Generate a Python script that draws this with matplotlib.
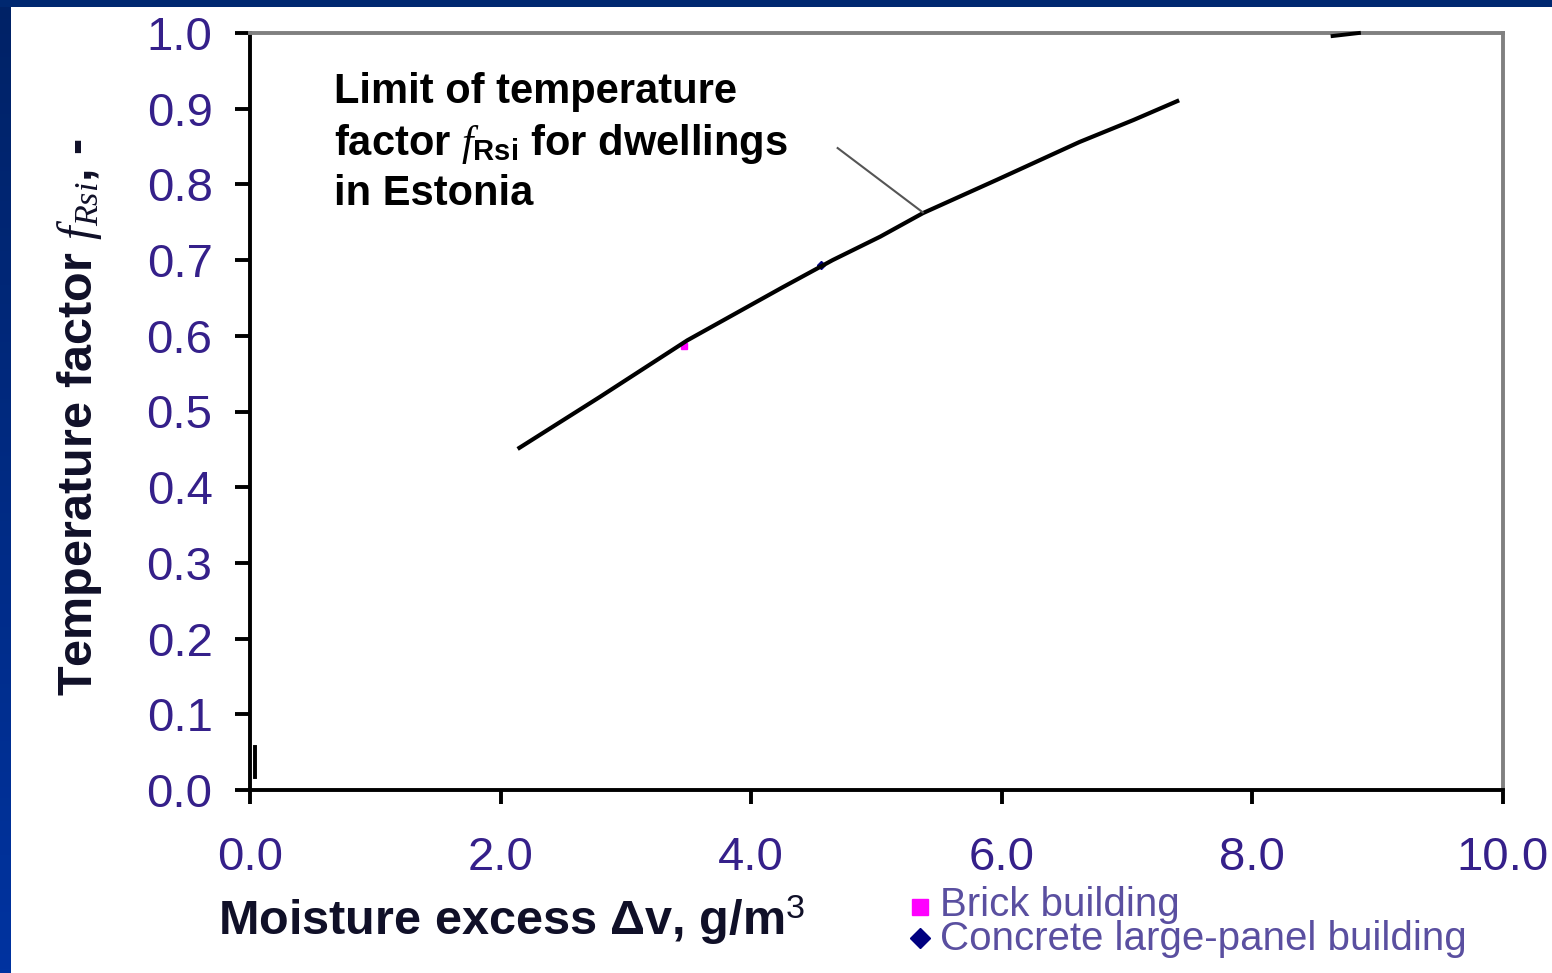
import numpy as np
import matplotlib
matplotlib.use('Agg')
import matplotlib.pyplot as plt
from matplotlib.lines import Line2D

plt.rcParams['font.family'] = ['Liberation Sans', 'DejaVu Sans']
plt.rcParams['mathtext.fontset'] = 'custom'
plt.rcParams['mathtext.rm'] = 'Liberation Sans'
plt.rcParams['mathtext.it'] = 'Liberation Serif:italic'
plt.rcParams['mathtext.bf'] = 'Liberation Sans:bold'

# limit curve of temperature factor
limit_x = [2.15, 2.79, 3.49, 4.25, 4.65, 5.03, 5.37, 5.96, 6.62, 7.05, 7.40]
limit_y = [0.452, 0.519, 0.594, 0.664, 0.700, 0.731, 0.762, 0.806, 0.856, 0.885, 0.910]

# measured buildings (mostly hidden behind the curve)
brick_x = [3.46]
brick_y = [0.586]
concrete_x = [4.56]
concrete_y = [0.693]

# small leftovers of other lines in the original
stub_left_x = [0.04, 0.04]
stub_left_y = [0.017, 0.057]
stub_top_x = [8.64, 8.85]
stub_top_y = [0.996, 1.0]

# leader line of the annotation
leader_x = [4.69, 5.37]
leader_y = [0.848, 0.763]

x_ticks = [0, 2, 4, 6, 8, 10]
x_labels = ['0.0', '2.0', '4.0', '6.0', '8.0', '10.0']
y_ticks = [0.0, 0.1, 0.2, 0.3, 0.4, 0.5, 0.6, 0.7, 0.8, 0.9, 1.0]
y_labels = ['%.1f' % v for v in y_ticks]

legend_labels = ['Brick building', 'Concrete large-panel building']
legend_colors = ['#ff00ff', '#000080']
legend_markers = ['s', 'D']

tick_color = '#35208a'

fig = plt.figure(figsize=(15.52, 9.73), dpi=100)
fig.patch.set_facecolor('white')

# blue frame on the left and top
band = fig.add_axes([0, 0, 11 / 1552, 1])
grad = np.linspace(0, 1, 256).reshape(-1, 1)
cmap = matplotlib.colors.LinearSegmentedColormap.from_list('band', ['#002266', '#0033a0'])
band.imshow(grad, aspect='auto', cmap=cmap, extent=[0, 1, 0, 1], origin='upper')
band.axis('off')
top = fig.add_axes([0, 1 - 7 / 973, 1, 7 / 973])
top.set_facecolor('#002870')
top.set_xticks([])
top.set_yticks([])
for s in top.spines.values():
    s.set_visible(False)

ax = fig.add_axes([250 / 1552, 183 / 973, 1253 / 1552, 757 / 973])
ax.set_xlim(0, 10)
ax.set_ylim(0, 1)

ax.plot(brick_x, brick_y, 's', color='#ff00ff', markersize=5, zorder=2)
ax.plot(concrete_x, concrete_y, 'D', color='#000080', markersize=4, zorder=2)
ax.plot(limit_x, limit_y, color='black', lw=3, zorder=3)
ax.plot(stub_left_x, stub_left_y, color='black', lw=2.8, zorder=3)
ax.plot(stub_top_x, stub_top_y, color='black', lw=2.8, zorder=4, clip_on=False)
ax.plot(leader_x, leader_y, color='#555555', lw=1.5, zorder=3)

ax.text(0.67, 0.949, 'Limit of temperature', fontsize=30, fontweight='bold',
        va='top', ha='left', color='black')
ax.text(0.67, 0.882, r'factor $\mathit{f}_{\mathbf{Rsi}}$ for dwellings', fontsize=30,
        fontweight='bold', va='top', ha='left', color='black')
ax.text(0.67, 0.814, 'in Estonia', fontsize=30, fontweight='bold',
        va='top', ha='left', color='black')

ax.set_xticks(x_ticks)
ax.set_xticklabels(x_labels)
ax.set_yticks(y_ticks)
ax.set_yticklabels(y_labels)
ax.tick_params(axis='y', direction='out', length=11, width=2.8, color='black',
               labelsize=34, labelcolor=tick_color, pad=16)
ax.tick_params(axis='x', direction='out', length=10, width=2.8, color='black',
               labelsize=34, labelcolor=tick_color, pad=23)

ax.spines['left'].set_color('black')
ax.spines['bottom'].set_color('black')
ax.spines['top'].set_color('#808080')
ax.spines['right'].set_color('#808080')
for s in ax.spines.values():
    s.set_linewidth(2.8)

fig.text(218 / 1552, 1 - 920 / 973, r'Moisture excess Δv, g/m$^{3}$', fontsize=35,
         fontweight='bold', color='#101028', ha='left', va='center')
fig.text(80 / 1552, 1 - 417 / 973, r'Temperature factor $\mathit{f}_{Rsi}$, -', fontsize=35,
         fontweight='bold', color='#101028', ha='center', va='center', rotation=90)

# legend drawn below the plot area
for i, (col, mk) in enumerate(zip(legend_colors, legend_markers)):
    yy = 1 - (907 + 31 * i) / 973
    fig.add_artist(Line2D([920 / 1552], [yy], marker=mk, color=col, linestyle='none',
                          markersize=12 if mk == 's' else 10, transform=fig.transFigure))
fig.text(940 / 1552, 1 - 922 / 973, '\n'.join(legend_labels), fontsize=29, color='#5a4fa0',
         ha='left', va='center', linespacing=0.9)

fig.savefig('out.png', dpi=100)
